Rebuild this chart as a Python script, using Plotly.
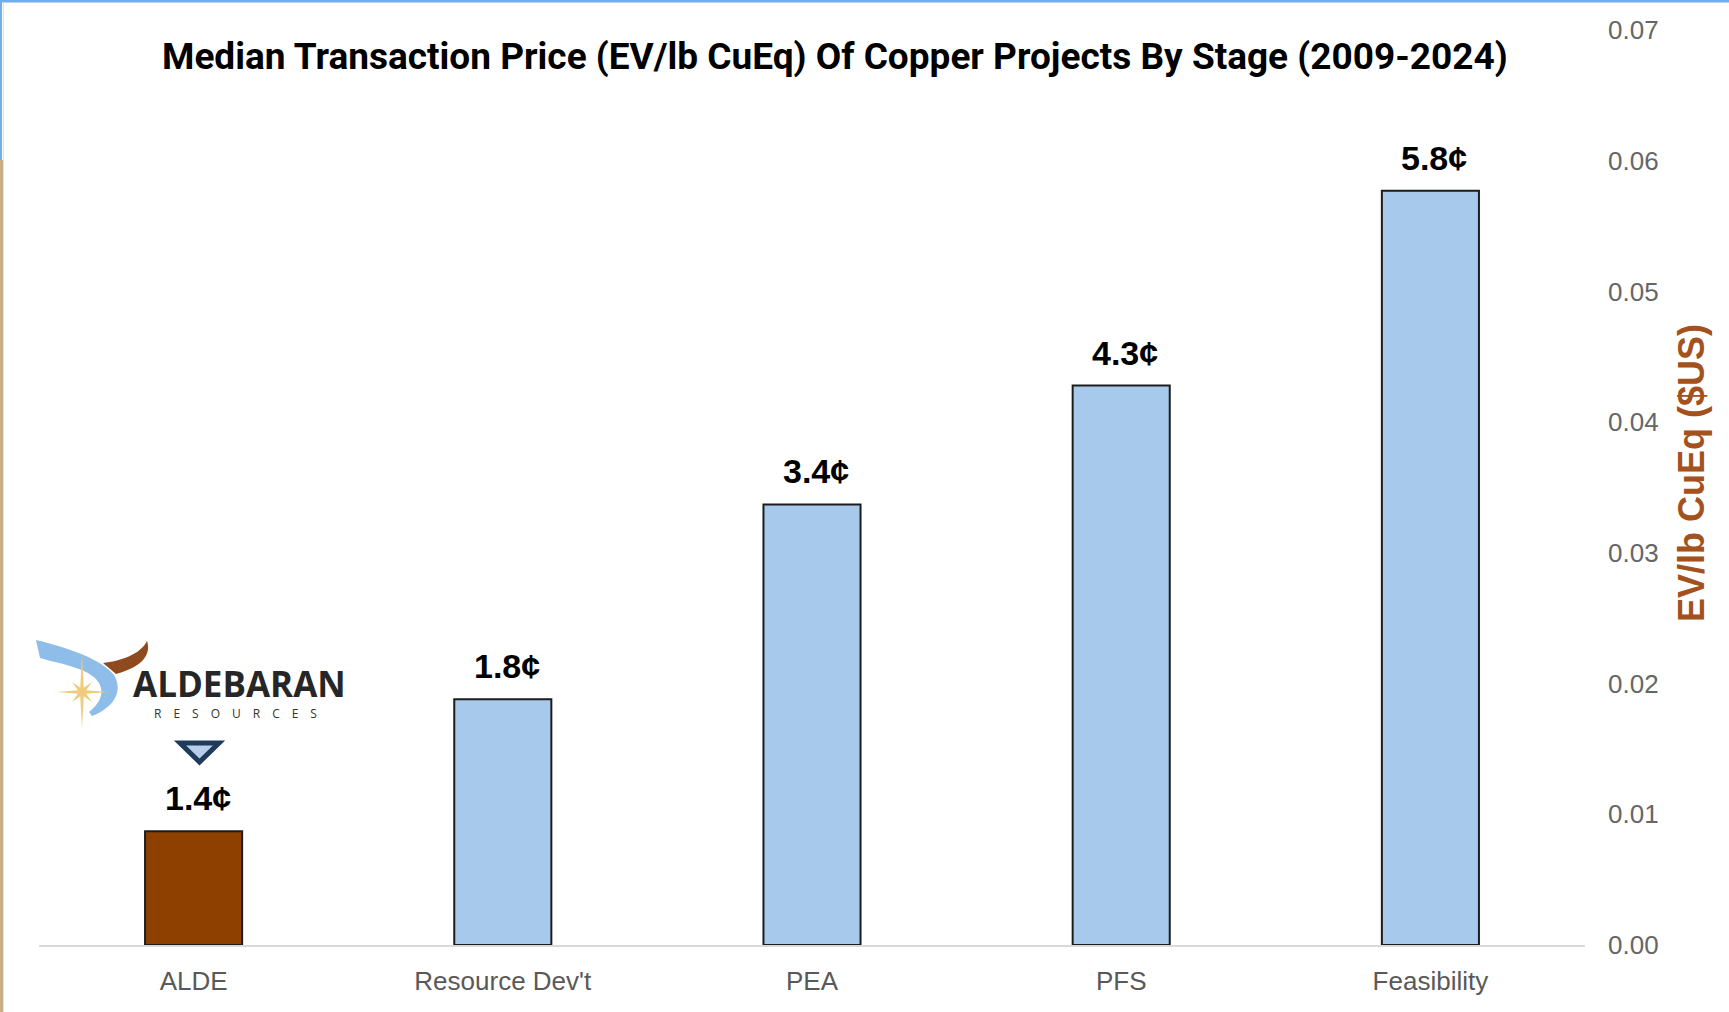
import math
import plotly.graph_objects as go

# ---------------- data ----------------
categories = ["ALDE", "Resource Dev't", "PEA", "PFS", "Feasibility"]
bar_values = [0.0087, 0.0188, 0.0337, 0.0428, 0.0577]
label_texts = ["1.4¢", "1.8¢", "3.4¢", "4.3¢", "5.8¢"]
bar_colors = ["#8E4000", "#A7CAEC", "#A7CAEC", "#A7CAEC", "#A7CAEC"]
y_tick_values = [0.00, 0.01, 0.02, 0.03, 0.04, 0.05, 0.06, 0.07]
y_tick_labels = ["0.00", "0.01", "0.02", "0.03", "0.04", "0.05", "0.06", "0.07"]

title_text = "Median Transaction Price (EV/lb CuEq) Of Copper Projects By Stage (2009-2024)"
y_title_text = "EV/lb CuEq ($US)"

# ---------------- geometry helpers (page pixels -> paper) ----------------
W, H = 1729, 1012
ML, MR, MT, MB = 39, 144, 30, 67
PW = W - ML - MR
PH = H - MT - MB


def px(x):
    return (x - ML) / PW


def py(y):
    return (H - MB - y) / PH


def pt(x, y):
    return f"{px(x):.5f},{py(y):.5f}"


def poly_path(points):
    s = "M " + pt(*points[0])
    for p in points[1:]:
        s += " L " + pt(*p)
    return s + " Z"


fig = go.Figure()
fig.add_trace(go.Bar(
    x=categories,
    y=bar_values,
    marker=dict(color=bar_colors, line=dict(color="#1c1c1c", width=2)),
    width=0.314,
    hoverinfo="skip",
    showlegend=False,
))

annotations = []
# value labels above bars
for c, v, t in zip(categories, bar_values, label_texts):
    annotations.append(dict(
        x=c, y=v, xref="x", yref="y", text=t, showarrow=False,
        yanchor="bottom", yshift=12, xshift=4,
        font=dict(family="Liberation Sans, Arial", size=34, color="#000000", weight=700),
    ))

# title
annotations.append(dict(
    x=px(835), y=py(57), xref="paper", yref="paper", text=title_text,
    showarrow=False, xanchor="center", yanchor="middle",
    font=dict(family="Roboto", size=37, color="#000000", weight=700),
))
# y axis title (right side)
annotations.append(dict(
    x=px(1691), y=py(473), xref="paper", yref="paper", text=y_title_text,
    showarrow=False, xanchor="center", yanchor="middle", textangle=-90,
    font=dict(family="Liberation Sans, Arial", size=36, color="#A3521D", weight=700),
))
# logo text
annotations.append(dict(
    x=px(239), y=py(683), xref="paper", yref="paper", text="ALDEBARAN",
    showarrow=False, xanchor="center", yanchor="middle",
    font=dict(family="Open Sans", size=35, color="#262626", weight=700),
))
annotations.append(dict(
    x=px(235), y=py(713), xref="paper", yref="paper",
    text="\u2002\u2002".join("RESOURCES"),
    showarrow=False, xanchor="center", yanchor="middle",
    font=dict(family="Open Sans", size=12, color="#333333"),
))

shapes = []
# blue swoosh
swoosh = ("M " + pt(36, 640)
          + " C " + pt(70, 648) + " " + pt(102, 660) + " " + pt(114, 675)
          + " C " + pt(124, 692) + " " + pt(113, 708) + " " + pt(92, 716)
          + " L " + pt(89, 712)
          + " C " + pt(103, 701) + " " + pt(105, 689) + " " + pt(96, 679)
          + " C " + pt(84, 667) + " " + pt(60, 664) + " " + pt(40, 658) + " Z")
shapes.append(dict(type="path", path=swoosh, xref="paper", yref="paper",
                   fillcolor="#8DBDE8", line=dict(width=0)))
# brown horn
horn = ("M " + pt(103, 663)
        + " C " + pt(120, 661) + " " + pt(140, 655) + " " + pt(147, 641)
        + " C " + pt(151, 653) + " " + pt(145, 666) + " " + pt(116, 674) + " Z")
shapes.append(dict(type="path", path=horn, xref="paper", yref="paper",
                   fillcolor="#8F4A1E", line=dict(width=0)))
# gold star
cx, cy = 82, 692
outer = [26, 14, 39, 14, 25, 14, 37, 14]
star_pts = []
for i in range(16):
    ang = math.radians(i * 22.5)
    r = outer[i // 2] if i % 2 == 0 else 4.5
    star_pts.append((cx + r * math.cos(ang), cy - r * math.sin(ang)))
shapes.append(dict(type="path", path=poly_path(star_pts), xref="paper", yref="paper",
                   fillcolor="#EFCB7B", line=dict(width=0)))
# down triangle marker
shapes.append(dict(type="path", path=poly_path([(180, 743), (219, 743), (199.5, 762)]),
                   xref="paper", yref="paper", fillcolor="#B7CDE8",
                   line=dict(color="#1F3A5A", width=5)))

# page border remnants
shapes.append(dict(type="rect", xref="paper", yref="paper",
                   x0=px(0), x1=px(W), y0=py(0), y1=py(2.5),
                   fillcolor="#6FAEEA", line=dict(width=0)))
shapes.append(dict(type="rect", xref="paper", yref="paper",
                   x0=px(0), x1=px(2), y0=py(0), y1=py(160),
                   fillcolor="#6FAEEA", line=dict(width=0)))
shapes.append(dict(type="rect", xref="paper", yref="paper",
                   x0=px(0), x1=px(3), y0=py(160), y1=py(H),
                   fillcolor="#C8AE86", line=dict(width=0)))
shapes.append(dict(type="rect", xref="paper", yref="paper",
                   x0=px(3), x1=px(4), y0=py(2.5), y1=py(H),
                   fillcolor="#E3E3E3", line=dict(width=0)))

fig.update_layout(
    width=W, height=H,
    margin=dict(l=ML, r=MR, t=MT, b=MB, pad=0),
    paper_bgcolor="#FFFFFF",
    plot_bgcolor="#FFFFFF",
    showlegend=False,
    annotations=annotations,
    shapes=shapes,
    xaxis=dict(
        type="category", range=[-0.5, 4.5],
        showline=True, linecolor="#D9D9D9", linewidth=2,
        ticks="", showgrid=False, zeroline=False,
        tickfont=dict(family="Liberation Sans, Arial", size=26, color="#595959"),
        ticklabelstandoff=12,
    ),
    yaxis=dict(
        side="right", range=[0, 0.07],
        tickmode="array", tickvals=y_tick_values, ticktext=y_tick_labels,
        showline=False, showgrid=False, zeroline=False, ticks="",
        tickfont=dict(family="Liberation Sans, Arial", size=26, color="#666666"),
        ticklabelstandoff=22,
    ),
)

fig.write_html(
    "out.html",
    config={"displayModeBar": False},
    post_script="document.body.style.margin='0';document.body.style.overflow='hidden';",
)
